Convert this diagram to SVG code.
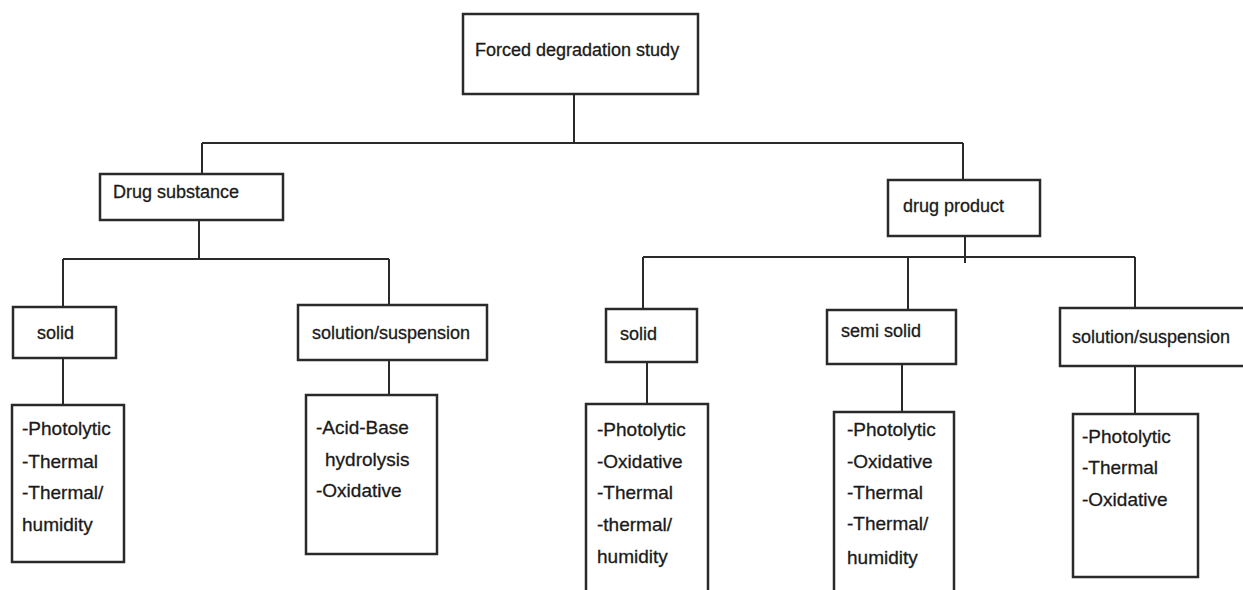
<svg xmlns="http://www.w3.org/2000/svg" width="1243" height="590" viewBox="0 0 1243 590">
<style>
.box{fill:#fff;stroke:#2a2a2a;stroke-width:2.5}
.ln{fill:none;stroke:#2a2a2a;stroke-width:2}
text{font-family:"Liberation Sans",Arial,sans-serif;font-size:18px;fill:#1a1a1a;stroke:#1a1a1a;stroke-width:0.3}
.it{font-size:19px}
</style>
<rect width="1243" height="590" fill="#fff"/>
<g id="connectors">
<path class="ln" d="M574 94V143M202 143H963M202 143V174M963 143V180"/>
<path class="ln" d="M199 220V259M63 259H389M63 259V307M389 259V305"/>
<path class="ln" d="M965 236V263M643 257H1135M643 257V309M908 257V310M1135 257V308"/>
<path class="ln" d="M63 358V405M389 360V402M647 362V404M902 364V412M1135 366V414"/>
</g>
<g id="root"><rect class="box" x="463" y="14" width="235" height="80"/><text x="475" y="56">Forced degradation study</text></g>
<g id="drug-substance"><rect class="box" x="100" y="174" width="183" height="46"/><text x="113" y="198">Drug substance</text></g>
<g id="drug-product"><rect class="box" x="888" y="180" width="152" height="56"/><text x="903" y="212">drug product</text></g>
<g id="ds-solid"><rect class="box" x="13" y="307" width="103" height="51"/><text x="37" y="339">solid</text></g>
<g id="ds-solution"><rect class="box" x="298" y="305" width="189" height="55"/><text x="312" y="339">solution/suspension</text></g>
<g id="dp-solid"><rect class="box" x="606" y="309" width="91" height="53"/><text x="620" y="340">solid</text></g>
<g id="dp-semisolid"><rect class="box" x="827" y="310" width="129" height="54"/><text x="841" y="337">semi solid</text></g>
<g id="dp-solution"><rect class="box" x="1060" y="308" width="186" height="58"/><text x="1072" y="343">solution/suspension</text></g>
<g id="ds-solid-tests"><rect class="box" x="12" y="405" width="112" height="157"/>
<text class="it" x="22" y="435">-Photolytic</text><text class="it" x="22" y="468">-Thermal</text><text class="it" x="22" y="499">-Thermal/</text><text class="it" x="22" y="531">humidity</text></g>
<g id="ds-solution-tests"><rect class="box" x="306" y="395" width="131" height="159"/>
<text class="it" x="316" y="434">-Acid-Base</text><text class="it" x="325" y="466">hydrolysis</text><text class="it" x="316" y="497">-Oxidative</text></g>
<g id="dp-solid-tests"><rect class="box" x="586" y="404" width="122" height="200"/>
<text class="it" x="597" y="436">-Photolytic</text><text class="it" x="597" y="468">-Oxidative</text><text class="it" x="597" y="499">-Thermal</text><text class="it" x="597" y="531">-thermal/</text><text class="it" x="597" y="563">humidity</text></g>
<g id="dp-semisolid-tests"><rect class="box" x="834" y="412" width="120" height="200"/>
<text class="it" x="847" y="436">-Photolytic</text><text class="it" x="847" y="468">-Oxidative</text><text class="it" x="847" y="499">-Thermal</text><text class="it" x="847" y="530">-Thermal/</text><text class="it" x="847" y="564">humidity</text></g>
<g id="dp-solution-tests"><rect class="box" x="1073" y="414" width="125" height="163"/>
<text class="it" x="1082" y="443">-Photolytic</text><text class="it" x="1082" y="474">-Thermal</text><text class="it" x="1082" y="506">-Oxidative</text></g>
</svg>
